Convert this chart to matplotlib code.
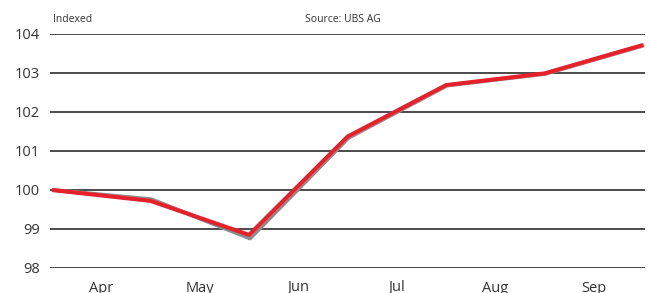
import matplotlib.pyplot as plt
import numpy as np

plt.rcParams['font.family'] = ['Open Sans', 'DejaVu Sans']

# monthly index values (points sit at month boundaries)
months = ['Apr', 'May', 'Jun', 'Jul', 'Aug', 'Sep']
benchmark = [100.0, 99.76, 98.76, 101.34, 102.68, 102.98, 103.71]
portfolio = [100.0, 99.72, 98.85, 101.37, 102.69, 102.99, 103.72]
yticks = [98, 99, 100, 101, 102, 103, 104]

fig = plt.figure(figsize=(6.5, 2.93), dpi=100)
ax = fig.add_axes([50/650, 1 - 268/293, 595/650, 234/293])

x = np.arange(len(portfolio))
ax.plot(x + 0.01, benchmark, color='#8c8c8c', lw=2.9, solid_capstyle='butt', zorder=3)
ax.plot(x, portfolio, color='#e8202a', lw=2.9, solid_capstyle='butt', zorder=4)

for v in yticks:
    ax.axhline(v, color='#1a1a1a', lw=1.1, zorder=1)

ax.set_xlim(-0.02, 6.02)
ax.set_ylim(98, 104)
ax.set_yticks(yticks)
ax.set_yticklabels([str(v) for v in yticks], fontsize=10.5, color='#333333')
ax.set_xticks(np.arange(len(months)) + 0.5)
ax.set_xticklabels(months, fontsize=10.5, color='#333333')
ax.tick_params(axis='y', length=0, pad=7)
ax.tick_params(axis='x', length=0, pad=9)
for s in ax.spines.values():
    s.set_visible(False)

fig.text(53/650, 1 - 19/293, 'Indexed', fontsize=7.5, color='#333333', va='center')
fig.text(305/650, 1 - 19/293, 'Source: UBS AG', fontsize=7.5, color='#333333', va='center')

fig.savefig('out.png', dpi=100)
